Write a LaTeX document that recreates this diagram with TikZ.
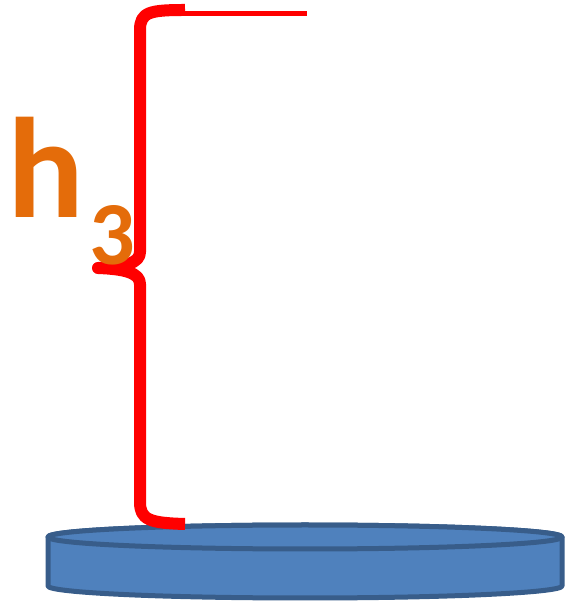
\documentclass[tikz,border=0pt]{standalone}
\usepackage{fontspec}
\setmainfont{Carlito}
\usepackage{tikz}
\usetikzlibrary{positioning,calc}
\definecolor{bracered}{HTML}{FF0000}
\definecolor{labelorange}{HTML}{E46C0A}
\definecolor{discfill}{HTML}{4F81BD}
\definecolor{discline}{HTML}{385D8A}
\tikzset{
  brace/.style={draw=bracered, line width=12pt, line join=round},
  thinrule/.style={draw=bracered, line width=5pt},
  disc/.style={fill=discfill, draw=discline, line width=5pt, line join=round},
  symbol/.style={font=\bfseries\fontsize{143}{143}\selectfont, text=labelorange, inner sep=0pt},
  subsym/.style={font=\bfseries\fontsize{90}{90}\selectfont, text=labelorange, inner sep=0pt},
}

\begin{document}
\begin{tikzpicture}[x=1pt,y=1pt]
  \useasboundingbox (0,0) rectangle (573,602);

  % the disc at the base
  \path[disc] (48,65) -- (48,16) arc[start angle=180, end angle=360, x radius=257, y radius=12]
    -- (562,65) arc[start angle=0, end angle=180, x radius=257, y radius=12] -- cycle;
  \path[disc] (305,65) ellipse[x radius=257, y radius=12];

  % brace for the height
  \coordinate (bracetop) at (185,592);
  \coordinate (bracetip) at (98,334);
  \coordinate (bracebot) at (185,78);
  \coordinate (lineend) at (307,588.5);
  \draw[brace] (bracetop) .. controls (150,592) and (140,590) .. (140,572)
    -- (140,350) .. controls (140,339) and (125,335) .. (bracetip)
    .. controls (125,333) and (140,329) .. (140,318)
    -- (140,100) .. controls (140,82) and (150,79) .. (bracebot);
  \draw[thinrule] (bracetop |- lineend) -- (lineend);

  % label
  \node[symbol, anchor=base west] (hsym) at (7,384) {h};
  \node[subsym, anchor=base west] (hsub) at ($(hsym.base east)+(5,-47)$) {3};
\end{tikzpicture}
\end{document}
